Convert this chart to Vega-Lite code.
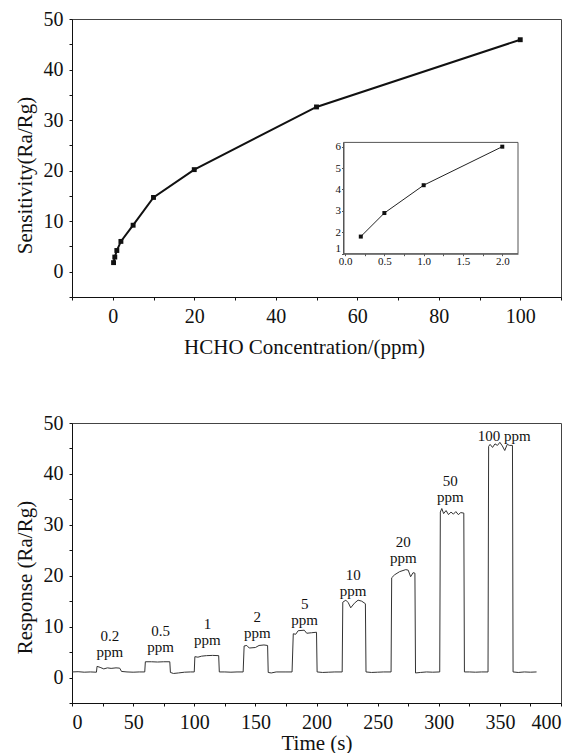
{
  "$schema": "https://vega.github.io/schema/vega-lite/v6.json",
  "background": "white",
  "padding": {"left": 13, "top": 8, "right": 0, "bottom": 0},
  "spacing": 126,
  "bounds": "flush",
  "config": {
    "view": {"stroke": "#444", "strokeWidth": 1},
    "axis": {
      "grid": false,
      "labelFont": "Liberation Serif",
      "titleFont": "Liberation Serif",
      "labelFontSize": 20,
      "titleFontSize": 21,
      "titleFontWeight": "normal",
      "labelColor": "#111",
      "titleColor": "#111",
      "domainColor": "#111",
      "tickColor": "#111",
      "tickSize": 3,
      "labelPadding": 6,
      "labelOverlap": false,
      "labelBound": false
    },
    "text": {"font": "Liberation Serif"}
  },
  "vconcat": [
    {
      "width": 489,
      "height": 278,
      "layer": [
        {
          "data": {
            "values": [
              {"ppm": 0.2, "s": 1.8},
              {"ppm": 0.5, "s": 2.9},
              {"ppm": 1, "s": 4.2},
              {"ppm": 2, "s": 6.0},
              {"ppm": 5, "s": 9.2},
              {"ppm": 10, "s": 14.7},
              {"ppm": 20, "s": 20.2},
              {"ppm": 50, "s": 32.6},
              {"ppm": 100, "s": 45.9}
            ]
          },
          "mark": {
            "type": "line",
            "color": "#111",
            "strokeWidth": 2,
            "point": {"shape": "square", "filled": true, "size": 24, "color": "#111"}
          },
          "encoding": {
            "x": {
              "field": "ppm",
              "type": "quantitative",
              "scale": {"domain": [-10, 110], "nice": false, "zero": false},
              "axis": {
                "values": [-10, 0, 10, 20, 30, 40, 50, 60, 70, 80, 90, 100, 110],
                "labelExpr": "datum.value % 20 === 0 ? datum.label : ''",
                "title": "HCHO Concentration/(ppm)",
                "titleX": 232,
                "titlePadding": 10
              }
            },
            "y": {
              "field": "s",
              "type": "quantitative",
              "scale": {"domain": [-5, 50], "nice": false, "zero": false},
              "axis": {
                "values": [-5, 0, 5, 10, 15, 20, 25, 30, 35, 40, 45, 50],
                "labelExpr": "datum.value % 10 === 0 ? datum.label : ''",
                "title": "Sensitivity(Ra/Rg)",
                "titleY": 156,
                "titlePadding": 8
              }
            }
          }
        },
        {
          "layer": [
            {
              "data": {"values": [{}]},
              "mark": {"type": "rect", "filled": false, "color": "#555", "strokeWidth": 1},
              "encoding": {
                "x": {
                  "datum": -0.02,
                  "type": "quantitative",
                  "scale": {"domain": [-0.02, 2.2], "range": [271.5, 446], "nice": false, "zero": false}
                },
                "x2": {"datum": 2.2},
                "y": {
                  "datum": 1,
                  "type": "quantitative",
                  "scale": {"domain": [1, 6.2], "range": [234.7, 123.4], "nice": false, "zero": false}
                },
                "y2": {"datum": 6.2}
              }
            },
            {
              "data": {
                "values": [
                  {"ppm": 0.2, "s": 1.8},
                  {"ppm": 0.5, "s": 2.9},
                  {"ppm": 1, "s": 4.2},
                  {"ppm": 2, "s": 6.0}
                ]
              },
              "mark": {
                "type": "line",
                "color": "#222",
                "strokeWidth": 1,
                "point": {"shape": "square", "filled": true, "size": 16, "color": "#111"}
              },
              "encoding": {
                "x": {
                  "field": "ppm",
                  "type": "quantitative",
                  "scale": {"domain": [-0.02, 2.2], "range": [271.5, 446], "nice": false, "zero": false},
                  "axis": {
                    "orient": "bottom",
                    "offset": -43.3,
                    "values": [0, 0.25, 0.5, 0.75, 1, 1.25, 1.5, 1.75, 2],
                    "labelExpr": "datum.value % 0.5 === 0 ? format(datum.value, '.1f') : ''",
                    "labelFontSize": 11,
                    "labelPadding": 0,
                    "tickSize": 2,
                    "domainColor": "#555",
                    "tickColor": "#555",
                    "title": null
                  }
                },
                "y": {
                  "field": "s",
                  "type": "quantitative",
                  "scale": {"domain": [1, 6.2], "range": [234.7, 123.4], "nice": false, "zero": false},
                  "axis": {
                    "orient": "left",
                    "offset": -271.5,
                    "values": [1, 1.5, 2, 2.5, 3, 3.5, 4, 4.5, 5, 5.5, 6],
                    "labelExpr": "datum.value % 1 === 0 ? datum.label : ''",
                    "labelFontSize": 11,
                    "labelPadding": 1,
                    "labelFlush": true,
                    "tickSize": 2,
                    "domainColor": "#555",
                    "tickColor": "#555",
                    "title": null
                  }
                }
              }
            }
          ]
        }
      ],
      "resolve": {
        "scale": {"x": "independent", "y": "independent"},
        "axis": {"x": "independent", "y": "independent"}
      }
    },
    {
      "width": 489,
      "height": 280,
      "encoding": {
        "x": {
          "field": "t",
          "type": "quantitative",
          "scale": {"domain": [0, 400], "nice": false, "zero": false},
          "axis": {
            "values": [0, 25, 50, 75, 100, 125, 150, 175, 200, 225, 250, 275, 300, 325, 350, 375, 400],
            "labelExpr": "datum.value % 50 === 0 ? datum.label : ''",
            "title": "Time (s)",
            "titlePadding": 0
          }
        },
        "y": {
          "field": "v",
          "type": "quantitative",
          "scale": {"domain": [-5, 50], "nice": false, "zero": false},
          "axis": {
            "values": [-5, 0, 5, 10, 15, 20, 25, 30, 35, 40, 45, 50],
            "labelExpr": "datum.value % 10 === 0 ? datum.label : ''",
            "title": "Response (Ra/Rg)",
            "titleY": 154,
            "titlePadding": 8
          }
        }
      },
      "layer": [
        {
          "data": {
            "values": [
              {"t": 0, "v": 1.1}, {"t": 5, "v": 1.15}, {"t": 10, "v": 1.05}, {"t": 15, "v": 1.1}, {"t": 20, "v": 1.05},
              {"t": 20.5, "v": 2.2}, {"t": 23, "v": 2.0}, {"t": 26, "v": 1.7}, {"t": 29, "v": 1.9}, {"t": 32, "v": 1.8},
              {"t": 36, "v": 1.9}, {"t": 39, "v": 1.85}, {"t": 40.5, "v": 1.2}, {"t": 45, "v": 1.1}, {"t": 50, "v": 1.05},
              {"t": 55, "v": 1.1}, {"t": 59.5, "v": 1.1}, {"t": 60, "v": 3.1}, {"t": 65, "v": 3.1}, {"t": 70, "v": 3.05},
              {"t": 75, "v": 3.1}, {"t": 80, "v": 3.1}, {"t": 80.5, "v": 1.0}, {"t": 83, "v": 0.8}, {"t": 87, "v": 0.9},
              {"t": 92, "v": 1.05}, {"t": 97, "v": 1.1}, {"t": 100, "v": 1.1}, {"t": 100.5, "v": 4.1}, {"t": 103, "v": 4.0},
              {"t": 106, "v": 4.2}, {"t": 110, "v": 4.3}, {"t": 115, "v": 4.35}, {"t": 120, "v": 4.3}, {"t": 120.5, "v": 1.1},
              {"t": 125, "v": 1.1}, {"t": 130, "v": 1.05}, {"t": 135, "v": 1.1}, {"t": 140, "v": 1.1}, {"t": 140.8, "v": 6.2},
              {"t": 143, "v": 6.3}, {"t": 145, "v": 5.8}, {"t": 150, "v": 5.9}, {"t": 153, "v": 6.3}, {"t": 157, "v": 6.4},
              {"t": 160, "v": 6.3}, {"t": 160.5, "v": 1.0}, {"t": 163, "v": 0.9}, {"t": 167, "v": 1.1}, {"t": 175, "v": 1.1},
              {"t": 180, "v": 1.1}, {"t": 181, "v": 8.6}, {"t": 183, "v": 8.5}, {"t": 185, "v": 9.2}, {"t": 190, "v": 9.3},
              {"t": 192, "v": 8.7}, {"t": 196, "v": 8.8}, {"t": 200, "v": 8.9}, {"t": 200.5, "v": 1.1}, {"t": 205, "v": 1.0},
              {"t": 210, "v": 1.05}, {"t": 215, "v": 1.1}, {"t": 221, "v": 1.1}, {"t": 221.5, "v": 14.8}, {"t": 224, "v": 15.2},
              {"t": 226, "v": 14.7}, {"t": 228, "v": 13.7}, {"t": 231, "v": 14.6}, {"t": 234, "v": 15.2}, {"t": 237, "v": 15.0},
              {"t": 240, "v": 14.5}, {"t": 240.5, "v": 1.1}, {"t": 245, "v": 1.0}, {"t": 250, "v": 1.05}, {"t": 255, "v": 1.1},
              {"t": 261, "v": 1.1}, {"t": 261.5, "v": 19.6}, {"t": 264, "v": 20.2}, {"t": 268, "v": 20.8}, {"t": 273, "v": 21.2},
              {"t": 275, "v": 21.1}, {"t": 277, "v": 19.8}, {"t": 279, "v": 20.6}, {"t": 280.5, "v": 20.5}, {"t": 281, "v": 0.9},
              {"t": 285, "v": 1.0}, {"t": 290, "v": 1.1}, {"t": 295, "v": 1.05}, {"t": 300.8, "v": 1.1}, {"t": 301.3, "v": 32.5},
              {"t": 302.5, "v": 33.2}, {"t": 304, "v": 32.2}, {"t": 306, "v": 32.8}, {"t": 308, "v": 32.0}, {"t": 310, "v": 32.5},
              {"t": 312, "v": 32.1}, {"t": 314, "v": 32.6}, {"t": 316, "v": 32.0}, {"t": 318, "v": 32.4}, {"t": 320.5, "v": 32.3},
              {"t": 321, "v": 1.1}, {"t": 325, "v": 1.1}, {"t": 330, "v": 1.05}, {"t": 335, "v": 1.1}, {"t": 340.3, "v": 1.1},
              {"t": 340.8, "v": 45.4}, {"t": 342, "v": 45.8}, {"t": 344, "v": 45.2}, {"t": 346, "v": 45.9}, {"t": 348, "v": 45.6},
              {"t": 350, "v": 46.2}, {"t": 352, "v": 45.5}, {"t": 354, "v": 44.6}, {"t": 356, "v": 45.8}, {"t": 358, "v": 45.6},
              {"t": 360.3, "v": 45.6}, {"t": 360.8, "v": 1.1}, {"t": 365, "v": 1.0}, {"t": 370, "v": 1.1}, {"t": 375, "v": 1.05},
              {"t": 380, "v": 1.1}
            ]
          },
          "mark": {"type": "line", "color": "#333", "strokeWidth": 1}
        },
        {
          "data": {
            "values": [
              {"t": 31, "v": 7.2, "label": "0.2\nppm"},
              {"t": 72.5, "v": 8.2, "label": "0.5\nppm"},
              {"t": 110.8, "v": 9.5, "label": "1\nppm"},
              {"t": 151.5, "v": 11.0, "label": "2\nppm"},
              {"t": 190.3, "v": 13.4, "label": "5\nppm"},
              {"t": 230, "v": 19.2, "label": "10\nppm"},
              {"t": 271, "v": 25.7, "label": "20\nppm"},
              {"t": 309.5, "v": 37.7, "label": "50\nppm"},
              {"t": 353.5, "v": 46.5, "label": "100 ppm"}
            ]
          },
          "mark": {
            "type": "text",
            "fontSize": 15,
            "baseline": "alphabetic",
            "align": "center",
            "color": "#111",
            "lineBreak": "\n",
            "lineHeight": 16
          },
          "encoding": {
            "text": {"field": "label"}
          }
        }
      ]
    }
  ]
}
